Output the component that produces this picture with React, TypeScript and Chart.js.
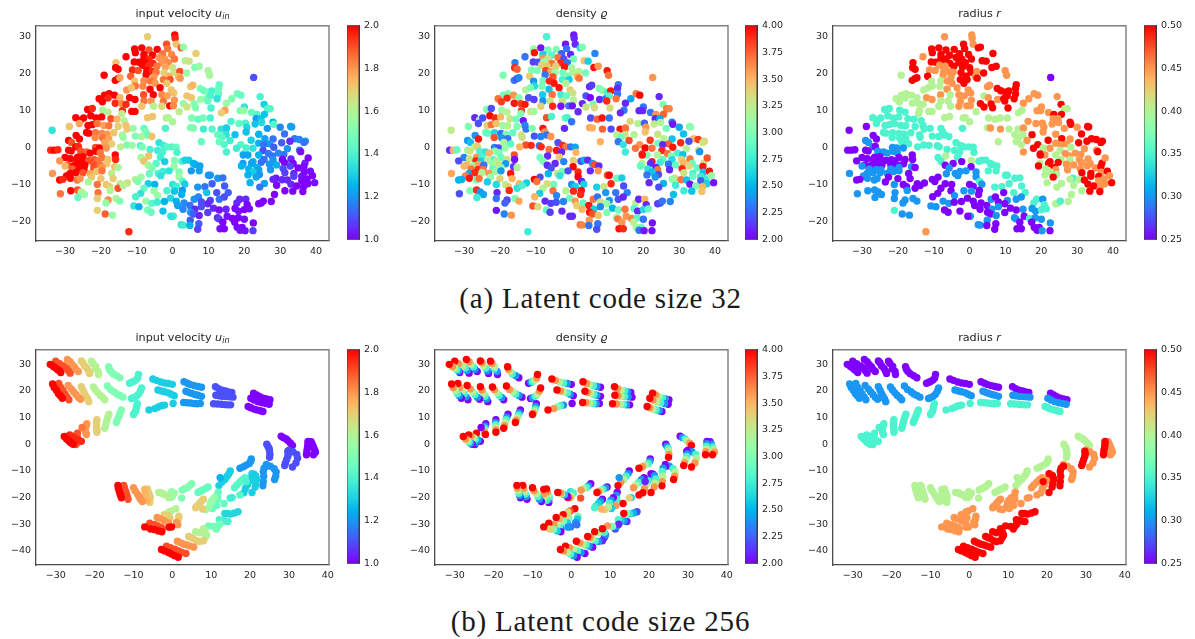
import React, { useEffect, useRef } from "react";
import { Chart, registerables } from "chart.js";

Chart.register(...registerables);

type Row = number[];

// ---------- Latent code size 32: x, y, input velocity, density, radius ----------
const crownPoints: Row[] = [
  [-7, 30, 1.7, 2.8, 0.45], [0.6, 30.5, 2, 2.05, 0.45], [0.7, 29.6, 1.95, 2.1, 0.45], [1, 28, 1.72, 2.1, 0.45],
  [-1.7, 28, 1.9, 2.05, 0.5], [-1.4, 26.8, 1.85, 2.3, 0.5], [2.4, 27, 1.9, 2.65, 0.5], [3, 27.2, 1.55, 3, 0.5],
  [-10.6, 26.7, 2, 3.1, 0.5], [-8.6, 27, 2, 2.05, 0.5], [-6.6, 26.4, 1.9, 2.95, 0.5], [-4.3, 26.6, 2, 3, 0.5],
  [-10.4, 25.7, 2, 3.95, 0.5], [-2.8, 25.4, 1.85, 2.25, 0.5], [-0.3, 25.2, 1.82, 2.1, 0.5], [6.5, 25.5, 1.7, 2.35, 0.5],
  [-13, 24.6, 2, 2.3, 0.45], [-8, 25.2, 2, 2.6, 0.5], [-5.6, 25, 2, 2.85, 0.5], [-8, 24.2, 2, 3.6, 0.5],
  [-6.6, 24, 1.95, 3.3, 0.5], [-3.8, 24.4, 1.8, 3.7, 0.5], [-2.2, 24, 1.8, 2.2, 0.5], [0.5, 24, 1.85, 2.95, 0.5],
  [3.5, 23.5, 1.6, 3.45, 0.5], [4.6, 23.4, 1.65, 2.6, 0.5], [-10.7, 23.2, 2, 2.15, 0.5], [-9.4, 23.1, 2, 2.2, 0.5],
  [-7.8, 23.2, 2, 3.1, 0.5], [-5.5, 22.8, 1.95, 3.7, 0.5], [-3, 23, 1.8, 3.9, 0.5], [-1.2, 23, 1.82, 2.3, 0.5],
  [-8.4, 22.3, 2, 3.4, 0.45], [-6.8, 22, 1.95, 3.45, 0.45], [-4.4, 22, 1.85, 3.4, 0.5], [-2, 21.8, 1.78, 3.95, 0.5],
  [0, 21.6, 1.65, 3.15, 0.5], [6.2, 21.7, 1.5, 3.95, 0.5], [7.4, 22, 1.55, 3.6, 0.5], [-15.8, 23, 1.72, 2.35, 0.5],
  [-15.9, 21.6, 2, 3.9, 0.5], [-15.2, 21.2, 2, 3.75, 0.5], [-11.2, 21, 1.95, 3, 0.45], [-9.6, 20.9, 1.9, 3, 0.45],
  [-7.2, 20.8, 2, 3.85, 0.45], [-5.8, 20.6, 1.95, 3.55, 0.45], [-4.6, 20.4, 1.85, 3.1, 0.45], [-2.4, 20.3, 1.7, 2.95, 0.5],
  [0.4, 20.4, 1.65, 3.2, 0.5], [2, 20.6, 1.9, 3.2, 0.45], [3.9, 20.2, 1.55, 2.95, 0.5], [9.9, 20.8, 1.58, 3.95, 0.45],
  [10.3, 19.6, 1.58, 3.7, 0.45], [-19.1, 19.6, 2, 3, 0.4], [-11.7, 19.3, 1.88, 3.4, 0.5], [-7.4, 19.7, 2, 2.3, 0.45],
  [-5.2, 19.1, 1.8, 3.8, 0.45], [-1, 19.3, 1.75, 3, 0.5], [1.6, 19.2, 1.72, 3.5, 0.45], [2.1, 18.8, 1.8, 3.7, 0.5],
  [-16, 18.2, 2, 2.3, 0.5], [-15.2, 18.7, 2, 2.2, 0.5], [-14.7, 18.9, 1.78, 2.35, 0.5], [-10.6, 18, 1.72, 2.4, 0.4],
  [-8, 18.1, 1.82, 2.95, 0.4], [-6.2, 18, 1.85, 3.9, 0.45], [-2.6, 18.4, 1.85, 2.8, 0.5], [-0.7, 18.4, 1.9, 2.6, 0.5],
];

const shoulderPoints: Row[] = [
  [-4.9, 17.4, 1.8, 3.95, 0.45], [-1.6, 17.4, 1.72, 3.2, 0.5], [5, 16.5, 1.7, 2.1, 0.45], [5.6, 16.9, 1.75, 2.15, 0.45],
  [-10.4, 16.7, 1.85, 2.65, 0.4], [-8.3, 16.6, 1.82, 3, 0.4], [-6.3, 15.8, 2, 2.55, 0.45], [-3.5, 16.2, 2, 3.95, 0.45],
  [13, 17, 1.45, 2.3, 0.5], [12.8, 16, 1.45, 2.1, 0.5], [-12.8, 15.6, 1.8, 3.2, 0.4], [-11.5, 16.2, 1.72, 3, 0.4],
  [-0.4, 15.6, 1.72, 3.4, 0.45], [0.3, 14.8, 1.72, 3.3, 0.45], [7.7, 16, 1.5, 3, 0.5], [8.7, 15.4, 1.45, 3.05, 0.5],
  [10, 15, 1.5, 2.8, 0.5], [10.9, 15.3, 1.4, 3.95, 0.5], [12.8, 14.5, 1.45, 2.3, 0.5], [16.5, 13.2, 1.5, 2.45, 0.45],
  [18, 14.6, 1.48, 3.7, 0.45], [19, 14.2, 1.45, 4, 0.45], [-19, 14.2, 2, 2.95, 0.4], [-17.7, 14.6, 2, 3, 0.4],
  [-16.2, 14.2, 2, 3.6, 0.4], [-14.7, 13.5, 1.75, 3, 0.4], [-8.1, 14.3, 1.9, 2.6, 0.45], [-5.4, 14.3, 2, 3.7, 0.4],
  [-3, 14.3, 1.82, 2.75, 0.45], [-1.5, 14, 1.78, 2.9, 0.45], [4, 14, 1.72, 2.2, 0.4], [5.2, 13.5, 1.72, 2, 0.45],
  [7.8, 13, 1.55, 2.1, 0.45], [9.5, 13.2, 1.5, 2.3, 0.5], [10.5, 14, 1.4, 2.85, 0.5], [12.4, 13.2, 1.35, 3.7, 0.5],
  [15, 12, 1.55, 2.1, 0.45], [24.4, 13.8, 1.4, 2.1, 0.45], [-20.5, 13.2, 2, 3.7, 0.4], [-18, 13.4, 1.95, 3.9, 0.4],
  [-12, 13.5, 2, 2.2, 0.45], [-10.5, 13, 2, 2.15, 0.45], [-8, 12.6, 1.85, 2.4, 0.4], [-6, 12.6, 1.8, 3.3, 0.4],
  [-2.6, 12.5, 1.85, 3.3, 0.45], [0.5, 12.8, 1.8, 3.2, 0.45], [-19.6, 12.4, 2, 3.85, 0.4], [-16, 12, 1.95, 3.95, 0.4],
  [-14.2, 11.9, 1.82, 3.85, 0.4], [-13, 11.7, 1.95, 3.95, 0.4], [3, 11.9, 1.55, 2.1, 0.5], [6, 11.8, 1.5, 2.95, 0.5],
  [9.8, 12.6, 1.45, 3.9, 0.5], [25.5, 11.7, 1.3, 3, 0.5], [-8.6, 11.2, 1.72, 3.4, 0.4], [-5.3, 11.2, 1.6, 3.9, 0.4],
  [-3, 11.2, 1.68, 2.05, 0.45], [-0.8, 11.3, 2, 2.3, 0.45], [0.2, 11.3, 1.82, 2.05, 0.45], [4, 11, 1.65, 3.3, 0.5],
  [6.4, 10.8, 1.5, 3.35, 0.5], [10.7, 10.7, 1.4, 3.35, 0.5], [20, 11, 1.35, 2.3, 0.45], [26.5, 10.5, 1.42, 3.7, 0.4],
  [27.2, 10.5, 1.42, 3.65, 0.4], [-14, 10, 1.95, 3.85, 0.4], [-11.4, 9.8, 2, 3.3, 0.4], [-10.5, 9.8, 2, 3.15, 0.4],
  [1.8, 9.7, 1.62, 2.1, 0.4], [14.6, 10.1, 1.78, 2.3, 0.4], [13.6, 9.4, 1.7, 2.1, 0.4], [18.8, 10, 1.5, 2.1, 0.45],
  [19.8, 10, 1.55, 2.1, 0.45], [22, 9.5, 1.45, 2.3, 0.45], [23.5, 9, 1.42, 3.6, 0.5], [25.6, 9, 1.28, 3.75, 0.5],
];

const leftLobePoints: Row[] = [
  [-23.7, 10.3, 2, 3, 0.35], [-22.4, 10.6, 1.95, 2.2, 0.35], [-19.5, 10.1, 1.58, 3.1, 0.35], [-18, 9.6, 1.62, 3.2, 0.35],
  [-14.2, 9.2, 1.62, 3, 0.4], [-7, 8.1, 1.72, 3.8, 0.4], [-5.6, 8.4, 1.72, 2.8, 0.4], [-1.8, 8, 1.6, 2.9, 0.4],
  [-1.2, 8.1, 1.6, 2.8, 0.4], [0, 7, 1.58, 2.3, 0.4], [5.3, 8, 1.5, 2.2, 0.4], [7.1, 7.7, 1.45, 3.75, 0.4],
  [8.5, 8, 1.48, 3.95, 0.4], [10.5, 8, 1.4, 2.3, 0.4], [-27, 8.1, 2, 2.1, 0.35], [-25.7, 7.4, 2, 3.05, 0.35],
  [-24.8, 8, 2, 2.2, 0.35], [-22.8, 8.6, 2, 4, 0.35], [-21.3, 8, 2, 3.9, 0.35], [-19.8, 8.3, 2, 3.5, 0.35],
  [-17.2, 7.8, 1.9, 3.3, 0.35], [-15.5, 7.7, 1.75, 2.95, 0.35], [-13.5, 7.3, 1.6, 2.05, 0.35], [-26, 6.5, 1.78, 2.2, 0.35],
  [-23.6, 6, 2, 3.4, 0.35], [-22.4, 6.2, 2, 3.7, 0.35], [-21, 6.5, 1.85, 3.45, 0.35], [-19.2, 6, 1.78, 3.1, 0.35],
  [-17.8, 5.9, 1.85, 3.2, 0.35], [-15.2, 5.7, 1.7, 3, 0.35], [-13, 6, 1.72, 2.35, 0.35], [-28.8, 5.7, 1.72, 3, 0.25],
  [-33.6, 4.7, 1.35, 3.25, 0.25], [-12.7, 5, 1.72, 2.3, 0.35], [-11, 5.2, 1.55, 3, 0.35], [-8, 5.2, 1.45, 3.95, 0.35],
  [-7.5, 4.2, 1.5, 3.6, 0.35], [-2, 5.2, 1.4, 2.1, 0.35], [5, 5.4, 1.5, 3.55, 0.4], [5.8, 5.3, 1.5, 3.5, 0.45],
  [8.6, 5, 1.38, 3.75, 0.45], [11, 5, 1.42, 2.2, 0.4], [13.5, 5, 1.35, 3.95, 0.4], [15, 5.2, 1.32, 3.85, 0.4],
  [-24, 4.1, 2, 2.95, 0.35], [-23.4, 3.9, 2, 2.9, 0.35], [-21.5, 4, 1.85, 2.65, 0.35], [-19.7, 3.8, 1.82, 2.3, 0.35],
  [-18.3, 3.6, 1.8, 3, 0.35], [-16.4, 4, 1.72, 2.9, 0.35], [-14, 3.4, 1.6, 3.3, 0.35], [-26.9, 3.3, 2, 2.4, 0.25],
  [-7, 3.4, 1.45, 2.3, 0.35], [-5.8, 3, 1.72, 3.6, 0.35], [-10.4, 3.1, 1.5, 2.2, 0.35], [-8.6, 3, 1.58, 2.35, 0.35],
  [-26, 2.3, 2, 3.95, 0.25], [-21.6, 2.7, 1.82, 3.8, 0.35], [-19.5, 2.6, 1.85, 2.4, 0.35], [-17.8, 2.4, 1.78, 2.3, 0.35],
  [-13.8, 2.8, 1.55, 3.3, 0.35], [-29, 1.9, 2, 2.4, 0.3], [-28.2, 1.4, 1.9, 2.55, 0.3], [-18.9, 1.4, 1.78, 3.2, 0.35],
  [-17, 1, 1.7, 2.85, 0.35], [-12.8, 0.7, 1.5, 3.8, 0.35], [-11.3, 0.6, 1.55, 3.9, 0.35], [-9, 0.5, 1.4, 2.3, 0.35],
  [-8.5, 0.2, 1.5, 3.9, 0.35], [-27, 0.2, 2, 3.2, 0.3], [-26.3, 0.3, 1.95, 3.4, 0.25], [-21.5, 0, 1.9, 2.35, 0.3],
  [-20.4, -0.1, 2, 2.2, 0.3], [-18.5, -0.1, 1.8, 3.1, 0.3], [-14.5, 0.2, 1.62, 3.5, 0.35], [-34, -0.7, 1.95, 2.1, 0.25],
  [-33, -0.7, 2, 3.5, 0.25], [-32, -0.6, 1.95, 2.9, 0.25], [-29, -0.7, 2, 3.1, 0.25], [-28.3, -0.9, 2, 3.3, 0.25],
  [-25.6, -1, 1.9, 2.8, 0.3], [-24, -1.2, 1.88, 2.7, 0.3], [-21.4, -1, 2, 3.1, 0.3], [-20.2, -1.4, 1.85, 3, 0.3],
  [-30, -2.7, 2, 2.35, 0.25], [-28.5, -3, 2, 3.3, 0.25], [-26.5, -2.6, 2, 3.6, 0.25], [-25, -2.5, 2, 2.8, 0.25],
  [-23, -1.5, 2, 3.5, 0.3], [-21.8, -3.3, 1.9, 2.8, 0.25], [-19.7, -2.7, 1.85, 2.9, 0.25], [-16, -2, 2, 3.8, 0.25],
  [-15.9, -3.2, 1.95, 2.05, 0.25], [-31.5, -3.6, 1.8, 2.2, 0.25], [-29.2, -4.7, 1.9, 3.5, 0.25], [-26.7, -3.6, 2, 3.9, 0.25],
  [-25.3, -3.7, 2, 2.6, 0.25], [-23.4, -3.5, 1.9, 3.2, 0.25], [-21, -3.6, 1.85, 3.2, 0.25], [-18, -3.2, 1.72, 3.3, 0.25],
  [-30, -5, 1.75, 3.5, 0.3], [-27.5, -4.9, 2, 3.1, 0.25], [-26, -4.6, 2, 3.55, 0.25], [-24.5, -4.8, 2, 2.3, 0.25],
  [-22, -4.6, 1.9, 3.1, 0.25], [-20.2, -4.7, 1.85, 3.3, 0.25], [-18.4, -4.4, 1.72, 2.4, 0.25], [-28, -5.8, 1.88, 3.7, 0.3],
  [-26, -5.9, 2, 3.9, 0.3], [-24.7, -6, 2, 3.7, 0.3], [-22, -5.8, 1.9, 2.9, 0.3], [-19.7, -5.4, 1.8, 3.1, 0.3],
  [-16.2, -5.2, 1.72, 2.15, 0.3], [-33.5, -7, 1.8, 3.55, 0.3], [-28.6, -7, 2, 2.45, 0.3], [-27, -6.8, 2, 3.9, 0.3],
  [-25, -6.8, 1.9, 3.2, 0.3], [-23, -7, 1.78, 3.6, 0.3], [-21.2, -6.5, 1.72, 3.1, 0.3], [-19.7, -6.3, 1.85, 2.4, 0.3],
  [-17, -7, 1.62, 3.95, 0.25], [-15.2, -5.4, 1.58, 3.2, 0.25], [-29.6, -7.7, 2, 3.65, 0.3], [-28.5, -8.3, 2, 3.95, 0.3],
  [-26.6, -8.8, 1.85, 3, 0.3], [-25.8, -8.4, 1.8, 3.7, 0.3], [-22.6, -8, 1.72, 3.1, 0.25], [-20, -8.4, 1.72, 3.4, 0.25],
  [-31.5, -8.8, 2, 2.5, 0.25], [-30.6, -8.6, 1.95, 2.5, 0.25], [-23.5, -9.3, 1.58, 2.6, 0.25], [-16.6, -8.4, 1.7, 3.5, 0.25],
  [-18.5, -10, 1.72, 3.2, 0.25], [-17.6, -10.6, 1.7, 3.4, 0.25], [-21, -10, 1.85, 2.65, 0.3], [-14.6, -9.8, 1.62, 3.5, 0.25],
  [-28.4, -11.7, 2, 3, 0.3], [-26.5, -11.5, 1.9, 3.9, 0.3], [-25.5, -12, 1.6, 2.4, 0.3], [-24.6, -12.7, 1.55, 2.45, 0.3],
  [-31.3, -12.5, 1.85, 2.2, 0.3], [-20.8, -12.2, 1.85, 2.1, 0.3], [-17.4, -11.6, 1.6, 3.9, 0.3], [-15.2, -11, 1.9, 2.7, 0.25],
  [-26.4, -13.5, 1.45, 2.75, 0.3], [-21, -13.8, 1.7, 2.3, 0.3], [-18, -14.2, 1.82, 2.2, 0.3], [-18.6, -15, 1.55, 2.25, 0.3],
  [-15.8, -13.8, 1.6, 3, 0.3], [-14.7, -14.5, 1.5, 3.55, 0.3], [-21, -17, 1.7, 2.05, 0.35], [-18.8, -18, 1.88, 2.35, 0.3],
  [-16.8, -18.3, 1.55, 3.6, 0.3], [-12.2, -22.8, 1.95, 2.75, 0.45],
];

const lowerBeltPoints: Row[] = [
  [-3.8, 1.3, 1.35, 2.2, 0.35], [-2.5, 0.6, 1.38, 3.9, 0.35], [-1.6, 0.2, 1.42, 3.7, 0.35], [-0.3, 0.2, 1.42, 2.3, 0.35],
  [1, 0.1, 1.45, 2.45, 0.35], [-6.3, -0.5, 1.4, 3.7, 0.35], [-4.2, -0.8, 1.38, 3.95, 0.35], [-2.8, -1.2, 1.4, 2.1, 0.35],
  [1.2, -1.3, 1.4, 3.5, 0.35], [-8.8, -2.7, 1.58, 2.95, 0.35], [-6.7, -2.3, 1.72, 2.1, 0.4], [-3.4, -2.6, 1.38, 3.4, 0.35],
  [0.5, -3.5, 1.5, 3.4, 0.4], [2.6, -3.7, 1.4, 2.2, 0.35], [3.5, -3.4, 1.3, 2.5, 0.35], [4.5, -3.4, 1.3, 2.1, 0.35],
  [5.8, -4.3, 1.25, 2.4, 0.35], [-8, -3.7, 1.72, 3, 0.35], [-4.6, -4.3, 1.42, 2.1, 0.25], [-2.2, -3.8, 1.3, 2.35, 0.25],
  [0.4, -5.2, 1.55, 4, 0.25], [6.3, -4.6, 1.25, 3.8, 0.35], [7.6, -5, 1.22, 2.1, 0.35], [-6.8, -4.8, 1.58, 2.1, 0.25],
  [-5.7, -5.5, 1.5, 2.2, 0.3], [-2.7, -6.5, 1.38, 2.95, 0.3], [-1, -6.3, 1.35, 2.2, 0.3], [1.8, -6.6, 1.5, 3.9, 0.3],
  [5.2, -6.3, 1.2, 2.1, 0.35], [7.4, -6.3, 1.22, 3.6, 0.35], [-8.8, -8, 1.55, 2.2, 0.25], [-6.5, -7.1, 1.45, 2.5, 0.3],
  [-4, -7, 1.4, 3.25, 0.3], [-3.3, -7.6, 1.35, 2.7, 0.3], [1.8, -7.9, 1.55, 4, 0.3], [10, -7.5, 1.2, 3.8, 0.35],
  [10.5, -7.5, 1.2, 4, 0.35], [-10.4, -8.6, 1.6, 4, 0.25], [-9.7, -9.2, 1.5, 3.7, 0.25], [-6.8, -9.8, 1.3, 3.35, 0.25],
  [2.8, -9.2, 1.42, 2.1, 0.35], [12.6, -8.3, 1.2, 2.95, 0.35], [14, -8.2, 1.15, 2.6, 0.35], [-12.6, -9.6, 1.65, 2.6, 0.25],
  [-5, -10, 1.25, 2.95, 0.25], [0, -10, 1.35, 2.4, 0.25], [1, -10.5, 1.38, 2.6, 0.25], [3.4, -9.9, 1.3, 2.6, 0.3],
  [7, -10.7, 1.2, 2.6, 0.35], [9, -10.6, 1.15, 3.3, 0.35], [11, -9.8, 1.12, 3.9, 0.35], [14.5, -10.4, 1.12, 2.2, 0.35],
  [-13.8, -10.3, 1.6, 2.8, 0.25], [-8, -11, 1.45, 3.2, 0.25], [-8.9, -12.4, 1.35, 2.6, 0.25], [-5.2, -11.7, 1.55, 3.7, 0.25],
  [-1.6, -11.7, 1.4, 3.2, 0.3], [0.5, -11.8, 1.28, 3.9, 0.3], [2.7, -11.6, 1.2, 3.95, 0.25], [12.3, -12.2, 1.1, 2.3, 0.35],
  [15.5, -12.2, 1.12, 2.35, 0.35], [-10.3, -13.3, 1.4, 3.5, 0.25], [-7.4, -14.5, 1.55, 2.1, 0.3], [-4.2, -13, 1.55, 2.35, 0.3],
  [-0.6, -13.7, 1.32, 2.95, 0.25], [1, -14.5, 1.25, 3.6, 0.25], [2.5, -12.7, 1.25, 3.9, 0.25], [6, -14, 1.2, 3.7, 0.3],
  [7.2, -13.4, 1.18, 2.3, 0.25], [9.5, -12.2, 1.28, 2.4, 0.25], [10.5, -14.3, 1.08, 2.4, 0.3], [13, -14, 1.15, 2.2, 0.3],
  [14.4, -13.4, 1.1, 2.1, 0.3], [-10.8, -15.8, 1.35, 3.8, 0.3], [-9.4, -16, 1.25, 3.35, 0.3], [-5.8, -15.1, 1.42, 2.15, 0.3],
  [-4.3, -14.8, 1.38, 2.2, 0.25], [-2.3, -14.6, 1.25, 2.35, 0.25], [1.4, -15.7, 1.22, 3.4, 0.25], [3.2, -15, 1.18, 2.9, 0.25],
  [4.8, -15.7, 1.15, 3.95, 0.25], [8, -14.7, 1.1, 3.3, 0.25], [9.8, -15.2, 1.05, 3.1, 0.25], [11.4, -16.4, 1.05, 2.5, 0.25],
  [17.9, -15, 1.05, 3.25, 0.35], [18.7, -14, 1.05, 2.1, 0.35], [-7, -16.9, 1.5, 2.9, 0.25], [-6, -17.5, 1.45, 2.15, 0.25],
  [-2.7, -17.2, 1.28, 2.1, 0.25], [2.9, -16.7, 1.18, 3.5, 0.25], [6.2, -16.7, 1.05, 2.6, 0.3], [8, -16, 1.1, 2.35, 0.3],
  [13, -16.9, 1.02, 2.95, 0.25], [14.9, -16.7, 1.05, 3.7, 0.3], [20.4, -14, 1.05, 3.5, 0.3], [20.8, -15.5, 1, 2.1, 0.35],
  [5, -17.5, 1.2, 3.95, 0.25], [5.8, -18, 1.12, 3.8, 0.25], [7.4, -18.4, 1.05, 3.45, 0.3], [9.8, -17.6, 1.08, 3, 0.25],
  [12.5, -19, 1.05, 3.1, 0.3], [15.2, -18.6, 1.02, 3.6, 0.25], [17.4, -16.5, 1, 2.85, 0.3], [18.4, -17.2, 1.02, 2.1, 0.3],
  [20, -16.8, 1, 2.65, 0.35], [21.4, -16.6, 1.02, 2.9, 0.35], [0.2, -18.6, 1.38, 2.1, 0.3], [-0.5, -18.6, 1.35, 2.1, 0.25],
  [4.9, -19.7, 1.12, 3.6, 0.3], [12.9, -19.3, 1.08, 3.7, 0.3], [16.7, -19.2, 1, 3.65, 0.35], [18.3, -19, 1, 2.85, 0.3],
  [20, -19.4, 1.02, 2.3, 0.3], [7.3, -20.6, 1.12, 2.3, 0.25], [14, -20.2, 1, 3.6, 0.25], [17.3, -20.2, 1, 3.2, 0.25],
  [22.5, -20.4, 1, 2.05, 0.3], [2.4, -20.9, 1.35, 3.7, 0.3], [3, -21, 1.38, 3.65, 0.3], [4.8, -21.1, 1.25, 2.3, 0.25],
  [13.2, -22, 1.02, 3.95, 0.25], [14.4, -22, 1, 3.9, 0.25], [18, -21.6, 1, 3.15, 0.25], [19.4, -21.6, 1, 2.95, 0.25],
  [7, -22.1, 1.08, 2.2, 0.25], [18.8, -22.4, 1.02, 2.3, 0.25], [20.2, -22.5, 1.02, 2.05, 0.3], [22.4, -22.5, 1.08, 2.05, 0.25],
];

const rightWingPoints: Row[] = [
  [22.6, 19, 1.1, 3.6, 0.25], [16.3, 7.1, 1.4, 3.35, 0.45], [18.5, 6.5, 1.45, 3.2, 0.45], [20.3, 6.6, 1.4, 2.25, 0.45],
  [23.3, 7.8, 1.2, 2.1, 0.45], [24.6, 7.8, 1.28, 2.45, 0.45], [28, 6.9, 1.25, 2.3, 0.5], [28.2, 6.3, 1.42, 2.05, 0.5],
  [32.9, 5.7, 1.2, 3, 0.5], [33.2, 5.6, 1.22, 3.05, 0.5], [15, 5.3, 1.3, 3.7, 0.45], [20.7, 5.5, 1.32, 3.6, 0.45],
  [26.4, 5.2, 1.2, 2.95, 0.45], [23, 6.4, 1.28, 3.25, 0.45], [24.8, 6.8, 1.32, 3.2, 0.45], [30, 5.5, 1.18, 2.45, 0.45],
  [12.6, 3.5, 1.45, 3.2, 0.4], [14.9, 3.5, 1.35, 3.3, 0.4], [17.4, 3.5, 1.28, 3.2, 0.5], [20.5, 4.2, 1.28, 3.45, 0.45],
  [24, 3.6, 1.25, 3.3, 0.45], [31.2, 3.7, 1.15, 2.55, 0.5], [13.8, 2.8, 1.42, 2.95, 0.4], [16, 1.9, 1.38, 3.8, 0.45],
  [21.9, 2, 1.3, 3.85, 0.5], [25.7, 2.4, 1.22, 3.2, 0.5], [28, 2.3, 1.15, 2.55, 0.45], [34, 2.4, 1.15, 3.5, 0.5],
  [35.3, 2.2, 1.18, 3.85, 0.5], [37, 1.7, 1.2, 3.4, 0.5], [8, 1.6, 1.45, 3.5, 0.4], [13, 1.6, 1.45, 2.3, 0.4],
  [24, 1.2, 1.25, 3, 0.45], [27, 1, 1.2, 3.75, 0.45], [30.4, 1.3, 1.12, 3.9, 0.5], [32.7, 1.7, 1.05, 2.2, 0.5],
  [36.6, 1.4, 1.15, 3.3, 0.5], [14.4, 0.8, 1.42, 2.7, 0.4], [19, 0.8, 1.42, 3.6, 0.5], [25.4, 0.8, 1.15, 2.1, 0.45],
  [28.2, 0.1, 1.12, 3.95, 0.4], [32, -0.3, 1.2, 3.2, 0.45], [20.5, -0.1, 1.4, 4, 0.4], [22.4, -0.2, 1.35, 3.7, 0.45],
  [15, -1.2, 1.4, 2.75, 0.45], [17.8, -0.2, 1.38, 3.7, 0.5], [19.7, -1.7, 1.45, 3.9, 0.5], [25.2, -0.8, 1.1, 3.9, 0.4],
  [26.7, -1.6, 1.15, 3.7, 0.45], [29.5, -1.5, 1.18, 2.8, 0.45], [35.4, -0.7, 1.15, 3.3, 0.45], [21, -2, 1.22, 3, 0.45],
  [24, -2, 1.25, 3.2, 0.4], [27.8, -2.3, 1.15, 3, 0.45], [31, -1.9, 1.15, 2.55, 0.45], [35.7, -1.1, 1.02, 2.4, 0.5],
  [19.7, -2, 1.22, 3.95, 0.5], [25.5, -3.2, 1.15, 2.95, 0.4], [28, -3.3, 1.2, 2.65, 0.4], [30.6, -3.2, 1, 3.4, 0.45],
  [33, -3.1, 1.05, 3.7, 0.45], [36.9, -4.2, 1.05, 3.3, 0.5], [19.6, -4.3, 1.2, 3.2, 0.4], [22.4, -3.8, 1.25, 3.95, 0.5],
  [24.7, -4, 1.15, 2.75, 0.5], [27, -4.5, 1.2, 2.3, 0.45], [31.2, -4.1, 1, 3.5, 0.45], [33.6, -4.3, 1, 2.9, 0.45],
  [37.8, -2.8, 1, 3.8, 0.45], [22, -4.3, 1.22, 2.1, 0.5], [29, -4.7, 1.25, 2.9, 0.45], [32.8, -5, 1.08, 3.35, 0.45],
  [35, -5.5, 1, 2.9, 0.45], [36.6, -5.1, 1, 3.95, 0.5], [19.2, -5, 1.25, 2.9, 0.5], [23.5, -5.4, 1.25, 2.1, 0.5],
  [21.2, -5.8, 1.25, 2.7, 0.4], [24, -6, 1.22, 3.7, 0.45], [27.3, -6, 1.2, 2.1, 0.45], [30.8, -5.7, 1.1, 3.9, 0.45],
  [31.3, -6.8, 1.08, 3.3, 0.5], [33.8, -7, 1.05, 2.8, 0.5], [36.7, -6.7, 1, 2.55, 0.45], [38.4, -6.4, 1.02, 3.95, 0.5],
  [24.2, -7.3, 1.2, 2.2, 0.4], [22.4, -6.6, 1.3, 2.55, 0.4], [21, -7.4, 1.25, 2.3, 0.4], [28.8, -8.3, 1.02, 3.3, 0.35],
  [33.8, -7.8, 1.08, 2.9, 0.5], [36, -7.8, 1.02, 2.75, 0.5], [37.5, -8.5, 1, 2.75, 0.45], [39, -7.6, 1, 3.1, 0.45],
  [23.3, -8, 1.22, 2.4, 0.5], [28, -8.6, 1.05, 3.1, 0.4], [30.5, -8.7, 1.05, 3.7, 0.4], [32, -8.8, 1.05, 2.55, 0.5],
  [36, -9, 1, 2.25, 0.45], [37.7, -9.8, 1, 2.6, 0.45], [39.6, -9.5, 1.02, 2.05, 0.5], [21.6, -9.5, 1.25, 2.1, 0.4],
  [25.6, -9.7, 1.22, 2.5, 0.4], [29, -10.2, 1, 2.75, 0.4], [33, -9.9, 1.05, 2.05, 0.5], [34.6, -10.4, 1, 3, 0.5],
  [36.5, -10.6, 1, 3.5, 0.45], [24.3, -10.7, 1.15, 2.2, 0.4], [31.3, -11.7, 1, 2.75, 0.4], [33.5, -11.8, 1, 2.55, 0.5],
  [36.3, -11.9, 1, 3.45, 0.5], [28.4, -12.7, 1, 2.55, 0.4], [24, -15.2, 1, 2.15, 0.4], [24.7, -15, 1, 2.2, 0.4],
  [25.3, -14.5, 1, 2.3, 0.35], [27.5, -14.6, 1, 2.35, 0.4],
];

// ---------- Latent code size 256: each strip is [input velocity, [x, y, density]...] ----------
type Strip = [number, ...number[][]];

const bandRadius25: Strip[] = [
  [1, [25.1, 16.7, 2], [24.2, 17, 2.4], [23.4, 17.3, 2.8], [22.5, 17.9, 3.2], [21.7, 18.5, 3.6], [20.9, 19.2, 4]],
  [1.1, [15.3, 19.5, 2], [14.5, 19.6, 2.4], [13.7, 20, 2.8], [12.8, 20.3, 3.2], [11.9, 20.9, 3.6], [11.1, 21.6, 4]],
  [1.2, [7.5, 21.4, 2], [6.6, 21.7, 2.4], [5.7, 22, 2.8], [4.7, 22.4, 3.2], [3.9, 22.9, 3.6], [3, 23.5, 4]],
  [1.3, [0, 22.5, 2], [-1, 22.8, 2.4], [-2, 23, 2.8], [-3, 23.4, 3.2], [-4.1, 24, 3.6], [-5, 24.5, 4]],
  [1.4, [-11, 22.9, 2], [-10.4, 23.3, 2.4], [-10, 23.6, 2.8], [-9.4, 24.1, 3.2], [-8.9, 24.9, 3.6], [-8.7, 26.2, 4]],
  [1.5, [-13.5, 25, 2], [-14.3, 25.7, 2.4], [-15.2, 26.5, 2.8], [-15.8, 27.3, 3.2], [-16.2, 28.2, 3.6], [-16.4, 29.1, 4]],
  [1.6, [-19, 26.2, 2], [-19.1, 27.3, 2.4], [-19.8, 28.3, 2.8], [-19.7, 29.2, 3.2], [-20.4, 30.3, 3.6], [-20.8, 31.2, 4]],
  [1.7, [-21.3, 26.6, 2], [-21.6, 27.6, 2.4], [-22, 28.6, 2.8], [-22.6, 29.5, 3.2], [-23, 30.6, 3.6], [-23.4, 31.3, 4]],
  [1.8, [-24.2, 27.3, 2], [-24.8, 28.2, 2.4], [-25.2, 29.1, 2.8], [-25.8, 30, 3.2], [-26.3, 31, 3.6], [-27, 31.8, 4]],
  [1.9, [-26.3, 26.7, 2], [-26.8, 27.7, 2.4], [-27.3, 28.6, 2.8], [-28, 29.4, 3.2], [-29, 30.2, 3.6], [-30, 31.2, 4]],
  [2, [-28.7, 26.9, 2], [-29, 27.5, 2.4], [-29.5, 28, 2.8], [-30, 28.6, 3.2], [-30.6, 29.2, 3.6], [-31.4, 30, 4]],
];

const bandRadius30: Strip[] = [
  [1, [24.9, 15, 2], [24, 15.3, 2.4], [23, 15.6, 2.8], [22, 16, 3.2], [21, 16.6, 3.6], [20.2, 17.3, 4]],
  [1.1, [15.6, 17.7, 2], [14.6, 17.8, 2.4], [13.7, 17.9, 2.8], [12.8, 18, 3.2], [12, 18.2, 3.6], [11.2, 18.4, 4]],
  [1.2, [7.5, 18, 2], [6.6, 18.4, 2.4], [5.8, 18.7, 2.8], [5, 19.1, 3.2], [4.2, 19.5, 3.6], [3.5, 19.9, 4]],
  [1.3, [0.5, 18.2, 2], [-0.3, 18.8, 2.4], [-1, 19.3, 2.8], [-2, 19.7, 3.2], [-2.8, 20, 3.6], [-3.7, 20.4, 4]],
  [1.4, [-10.5, 17.2, 2], [-10, 17.5, 2.4], [-9.3, 18, 2.8], [-8.7, 18.8, 3.2], [-8.2, 20, 3.6], [-7.9, 21.1, 4]],
  [1.5, [-12.7, 17.7, 2], [-13.5, 18.3, 2.4], [-14.3, 18.9, 2.8], [-15, 19.7, 3.2], [-15.9, 20.6, 3.6], [-16.7, 21.9, 4]],
  [1.6, [-17.4, 16.7, 2], [-17.9, 17.6, 2.4], [-18.6, 18.4, 2.8], [-19.2, 19.4, 3.2], [-19.8, 20.5, 3.6], [-20.3, 21.5, 4]],
  [1.7, [-21.5, 16, 2], [-21.8, 17, 2.4], [-22.2, 18, 2.8], [-22.6, 19.1, 3.2], [-23, 20.4, 3.6], [-23.4, 21.6, 4]],
  [1.8, [-23.6, 16.9, 2], [-24.2, 17.7, 2.4], [-24.8, 18.7, 2.8], [-25.4, 19.7, 3.2], [-26, 20.8, 3.6], [-26.8, 22.1, 4]],
  [1.9, [-26.6, 16.7, 2], [-27.1, 17.8, 2.4], [-27.6, 18.9, 2.8], [-28.1, 20, 3.2], [-28.7, 21.3, 3.6], [-29.2, 22.8, 4]],
  [2, [-28.3, 17.3, 2], [-28.8, 18.2, 2.4], [-29.3, 19, 2.8], [-29.8, 20.2, 3.2], [-30.4, 21.3, 3.6], [-30.8, 22.6, 4]],
];

const bandRadius35: Strip[] = [
  [1, [23.3, 12.3, 2], [22.6, 12.6, 2.4], [21.8, 12.9, 2.8], [21, 13.2, 3.2], [20.2, 13.7, 3.6], [19.5, 14.2, 4]],
  [1.1, [15, 14.8, 2], [14.2, 14.8, 2.4], [13.4, 14.9, 2.8], [12.6, 15, 3.2], [11.6, 15.1, 3.6], [10.6, 15.2, 4]],
  [1.2, [7.2, 15.3, 2], [6.4, 15.2, 2.4], [5.6, 15.3, 2.8], [4.7, 15.5, 3.2], [3.8, 15.6, 3.6], [2.9, 15.7, 4]],
  [1.3, [0.2, 15.3, 2], [-2, 14.7, 2.4], [-2.8, 14.5, 2.8], [-3.6, 14, 3], [-4.5, 13.4, 3.6], [-6, 12.9, 4]],
  [1.4, [-9, 15.2, 2], [-9.2, 14.2, 2.4], [-9.3, 13.2, 2.8], [-9.5, 12.3, 3.2], [-9.8, 11.7, 3.6], [-10, 11.2, 4]],
  [1.5, [-13.1, 12.9, 2], [-13.4, 11.9, 2.4], [-13.6, 11, 2.8], [-13.9, 10, 3.2], [-14.2, 9, 3.6], [-14.4, 8.2, 4]],
  [1.6, [-16.3, 11.3, 2], [-16.6, 10.2, 2.4], [-16.8, 9.2, 2.8], [-17, 8.2, 3.2], [-17.2, 7, 3.6], [-17.4, 6, 4]],
  [1.7, [-19.4, 9.2, 2], [-19.5, 8.2, 2.4], [-19.5, 7.4, 2.8], [-19.5, 6.4, 3.2], [-19.4, 5.4, 3.6], [-19.4, 4.5, 4]],
  [1.8, [-22, 7.7, 2], [-22.2, 6.8, 2.4], [-22.4, 6, 2.8], [-22.4, 5.2, 3.2], [-22.3, 4.4, 3.6], [-22.1, 3.7, 4]],
  [1.85, [-23.2, 6.3, 2]],
  [1.9, [-24.8, -0.1, 2], [-24.6, 0.6, 2.4], [-24.6, 1.4, 2.8], [-24.7, 2.2, 3.2], [-24.5, 3.2, 3.6], [-24.4, 4.2, 4]],
  [1.95, [-23.4, 1.1, 2], [-24, 1.5, 2.4], [-24.7, 1.9, 2.8], [-25.2, 2.5, 3.2], [-25.8, 3, 3.6], [-26.4, 3.5, 4]],
  [2, [-25.5, 0, 2], [-25.9, 0.4, 2.4], [-26.3, 0.8, 2.8], [-26.7, 1.4, 3.2], [-27.2, 2, 3.6], [-27.8, 2.9, 4]],
];

const bandRadius40: Strip[] = [
  [1, [28, 3, 2], [28.6, 2.5, 2.4], [29.3, 2, 2.8], [29.8, 1.3, 3.2], [30.4, 0.4, 3.6], [30.9, -0.4, 4]],
  [1.1, [24.3, 0, 2], [24.6, -0.8, 2.4], [24.9, -1.6, 2.8], [25, -2.4, 3.2], [25.1, -3.8, 3.6], [25, -4.9, 4]],
  [1.2, [20.3, -5.5, 2], [20.2, -6.3, 2.4], [19.8, -7.2, 2.8], [19, -7.8, 3.2], [18.3, -8.4, 3.6], [17.4, -9, 4]],
  [1.3, [14.9, -10, 2], [14.6, -11, 2.4], [14.1, -12, 2.8], [13.5, -13.2, 3.2], [12.7, -14.2, 3.6], [12, -15.5, 4]],
  [1.25, [12.3, -12.5, 2.4]],
  [1.45, [9.2, -16, 2], [8.8, -16.4, 2.4], [8.1, -16.9, 2.8], [7.5, -17.3, 3.2], [7, -17.8, 3.6], [6.6, -18.1, 4]],
  [1.5, [5, -14.8, 2], [4.4, -15.6, 2.4], [3.9, -16.2, 2.8], [3.1, -16.7, 3.2], [2.5, -17.2, 3.6], [2.4, -20.2, 3.8]],
  [1.55, [-0.2, -17.8, 2.7], [0.5, -18.3, 2.8], [0, -19.6, 3.2], [-0.4, -20, 3.6], [-0.9, -20, 4]],
  [1.6, [-1, -19.6, 2], [-1.8, -18.9, 2.6], [-2.5, -18.6, 3.2], [-2.8, -18.2, 3.6], [-3.5, -18.1, 4]],
  [1.7, [-5.8, -21.8, 2], [-5.8, -20.8, 2.4], [-5.7, -19.8, 2.8], [-5.9, -18.9, 3.2], [-6.2, -17.8, 3.6], [-6.4, -16.8, 4]],
  [1.75, [-6.4, -21, 2.8], [-7, -20, 3.2], [-7, -18.6, 3.6], [-7.1, -16.9, 4]],
  [1.8, [-7.7, -21.5, 2], [-8.2, -20.6, 2.4], [-8.6, -19.6, 2.8], [-9, -18.6, 3.2], [-9.6, -17.4, 3.6], [-10, -16.3, 4]],
  [1.9, [-11.4, -20.6, 2], [-11.6, -19.6, 2.4], [-11.8, -18.7, 2.8], [-12, -17.7, 3.2], [-12.3, -16.5, 3.6], [-12.5, -15.4, 4]],
  [2, [-13.1, -20.1, 2], [-13.3, -19.2, 2.4], [-13.5, -18.4, 2.8], [-13.7, -17.4, 3.2], [-13.9, -16.4, 3.6], [-14, -15.4, 4]],
];

const bandRadius45: Strip[] = [
  [1, [35.7, 1, 2], [36, 0, 2.4], [36.3, -1, 2.8], [36.6, -2, 3.2], [36.8, -3, 3.6], [36.3, -3.9, 4]],
  [1.1, [30, -2.2, 2], [31, -2.8, 2.4], [32, -3.8, 2.8], [32.2, -5.2, 3.2], [31.8, -7, 3.6], [30.9, -8.5, 4]],
  [1.2, [24.2, -7.6, 2], [25.2, -8.2, 2.4], [26.2, -9.2, 2.8], [26.7, -10.4, 3.2], [26.6, -12, 3.6], [26.3, -13.2, 4]],
  [1.3, [21, -11.2, 2], [20.4, -12.4, 2.4], [19.8, -13.8, 2.8], [19.3, -15.2, 3.2], [18.8, -16.6, 3.6], [18.4, -18.2, 4]],
  [1.42, [18.7, -12.5, 2], [18, -13.3, 2.4], [17.3, -14.3, 2.8], [16.6, -15.3, 3.2], [16, -16.3, 3.6], [17.4, -19, 4]],
  [1.38, [15.4, -20, 2.6], [14.9, -20.2, 3.4]],
  [1.45, [11.8, -18, 2], [11.6, -19.2, 2.4], [11.7, -20.6, 2.8], [11.4, -23, 3.6], [13.3, -22.2, 4], [10.3, -24.1, 2.6]],
  [1.55, [10.8, -20, 2], [10.2, -21, 2.4], [9.8, -22, 2.8], [9.5, -23.6, 3.2], [8.6, -24.5, 3.4]],
  [1.7, [8, -20.6, 2], [7.5, -21.4, 2.4], [7, -22.2, 2.6], [6.3, -23.2, 2.7], [6, -23.8, 2.8], [7.8, -24.3, 3.5]],
  [1.6, [0.9, -24.2, 4], [-0.3, -25, 3.8], [-0.9, -25.4, 3.4]],
  [1.7, [1.7, -27, 3], [1.6, -28, 2.6], [-0.6, -27.6, 3], [-1.2, -26.8, 3.4], [-2.1, -26.4, 4]],
  [1.8, [1.1, -29.3, 2.4], [1.4, -30.2, 2.3], [-1, -29.5, 2.6], [-2, -28.8, 3], [-3, -28, 3.5], [-3.9, -27.5, 4]],
  [1.9, [-2.6, -31.6, 2.4], [-3, -31.2, 2.8], [-3.7, -30.7, 3.2], [-4.5, -30.2, 3.6], [-5.8, -29.6, 4]],
  [2, [-0.2, -31, 2.3], [-0.8, -31.1, 2.4], [-2.7, -32.8, 2], [-3.6, -32.5, 2.6], [-4.6, -32, 3], [-5.6, -31.8, 3.4], [-7.1, -31, 4]],
];

const bandRadius50: Strip[] = [
  [1, [34.9, 1.1, 2], [34.9, 0.2, 2.4], [34.8, -0.8, 2.8], [34.7, -1.8, 3.2], [34.6, -2.8, 3.6], [34.5, -3.9, 4]],
  [1.1, [29.7, -2.6, 2], [29.8, -3.6, 2.4], [29.7, -4.6, 2.8], [29.4, -5.8, 3.2], [29.1, -7, 3.6], [28.9, -8, 4]],
  [1.2, [24.2, -8.2, 2], [23.6, -9, 2.4], [23.4, -10.2, 2.8], [23.5, -12, 3.2], [23.4, -14, 3.6], [23.3, -15.6, 4]],
  [1.3, [20.5, -11, 2], [21.4, -11.8, 2.4], [21.7, -13, 2.8], [21.5, -14.6, 3.2], [21.3, -16, 3.6], [20.5, -18.1, 4]],
  [1.4, [19, -14, 2.1]],
  [1.32, [16.9, -25.3, 2.2], [16, -25.8, 2.5], [15, -26.2, 2.7], [14.2, -26, 3], [13.5, -26, 4]],
  [1.4, [14.3, -29, 2.1], [13.6, -28.8, 2.4], [12.8, -28.6, 2.6], [12.1, -28.3, 2.8]],
  [1.48, [11.3, -31.8, 2.2], [11.7, -30.8, 2.4], [12.2, -30, 2.1], [10.6, -30.8, 3], [9.3, -30.6, 3.6]],
  [1.6, [8.5, -35, 2.1], [8.8, -34, 2.4], [8.5, -33, 2.8], [7, -33.2, 3.2], [8, -31.7, 4], [6, -32.8, 4]],
  [1.7, [8, -36.2, 2.1], [7, -36.5, 2.4], [6.2, -36.2, 2.8], [5.4, -35.4, 3.2], [4.8, -35, 3.6], [4.2, -34.6, 4]],
  [1.8, [5.5, -38.6, 2], [4.6, -38.2, 2.4], [3.8, -37.8, 2.8], [3, -37.5, 3.2], [2.2, -37, 3.6], [1.3, -36.4, 4]],
  [1.9, [3.5, -41, 2], [2.5, -40.6, 2.4], [1.6, -40, 2.8], [0.6, -39.4, 3.2], [-0.5, -38.8, 3.6], [-1.5, -38.2, 4]],
  [2, [1.5, -42.4, 2], [0.6, -41.8, 2.4], [-0.2, -41.2, 2.8], [-1, -40.6, 3.2], [-2, -40, 3.6], [-2.8, -39.5, 4]],
];

// ---------- Axes, colour bars, titles ----------
const topXTicks = [-30, -20, -10, 0, 10, 20, 30, 40];
const topYTicks = [-20, -10, 0, 10, 20, 30];
const bottomYTicks = [-40, -30, -20, -10, 0, 10, 20, 30];
const velocityTicks = ["1.0", "1.2", "1.4", "1.6", "1.8", "2.0"];
const densityTicks = ["2.00", "2.25", "2.50", "2.75", "3.00", "3.25", "3.50", "3.75", "4.00"];
const radiusTicks = ["0.25", "0.30", "0.35", "0.40", "0.45", "0.50"];
const topXRange = [-38.1, 43.6];
const topYRange = [-25.3, 33];
const bottomXRange = [-35.07, 40.3];
const bottomYRange = [-45.3, 35.5];

const topRows: Row[] = [...crownPoints, ...shoulderPoints, ...leftLobePoints, ...lowerBeltPoints, ...rightWingPoints];
const allBands: [number, Strip[]][] = [
  [0.25, bandRadius25], [0.3, bandRadius30], [0.35, bandRadius35],
  [0.4, bandRadius40], [0.45, bandRadius45], [0.5, bandRadius50],
];
const bottomRows: Row[] = allBands.flatMap(([radius, strips]) =>
  strips.flatMap(([u, ...pts]) => pts.map((p) => [p[0], p[1], u as number, p[2], radius]))
);

function rainbow(t: number): string {
  const c = Math.max(0, Math.min(1, t));
  const r = Math.min(1, Math.abs(2 * c - 0.5));
  const g = Math.sin(Math.PI * c);
  const b = Math.cos((Math.PI * c) / 2);
  return `rgb(${Math.round(r * 255)},${Math.round(g * 255)},${Math.round(b * 255)})`;
}

const TICK_COLOR = "#262626";
const SPINE_DARK = "#4a4a4a";
const SPINE_LIGHT = "#7e7e7e";
const tickFont = { family: "'DejaVu Sans'", size: 9.5 };
const minus = (v: number | string) => String(v).replace("-", "\u2212");

type PanelSpec = {
  rows: Row[]; col: number; left: number; top: number; xr: number[]; yr: number[];
  xt: number[]; yt: number[]; low: number; high: number; labels: string[]; barLeft: number;
};

const PLOT_W = 293;
const PLOT_H = 217;
const BAR_W = 12;

function Scatter({ p }: { p: PanelSpec }) {
  const ref = useRef<HTMLCanvasElement>(null);
  useEffect(() => {
    const chart = new Chart(ref.current!, {
      type: "scatter",
      data: {
        datasets: [{
          data: p.rows.map((r) => ({ x: r[0], y: r[1] })),
          pointRadius: 3.7,
          pointBorderWidth: 0,
          pointBackgroundColor: p.rows.map((r) => rainbow((r[p.col] - p.low) / (p.high - p.low))),
        }],
      },
      options: {
        animation: false, responsive: false,
        layout: { padding: { top: 6, right: 16, left: 0, bottom: 0 } },
        plugins: { legend: { display: false }, tooltip: { enabled: false } },
        scales: {
          x: {
            type: "linear", min: p.xr[0], max: p.xr[1],
            afterBuildTicks: (s: any) => { s.ticks = p.xt.map((v) => ({ value: v })); },
            afterFit: (s: any) => { s.height = 24; },
            grid: { display: false, drawTicks: true, tickLength: 3, tickColor: TICK_COLOR },
            border: { display: true, color: SPINE_DARK, width: 1.3 },
            ticks: { color: TICK_COLOR, font: tickFont, padding: 2, maxRotation: 0, autoSkip: false, callback: (v: any) => minus(v) },
          },
          y: {
            type: "linear", min: p.yr[0], max: p.yr[1],
            afterBuildTicks: (s: any) => { s.ticks = p.yt.map((v) => ({ value: v })); },
            afterFit: (s: any) => { s.width = 34; },
            grid: { display: false, drawTicks: true, tickLength: 3, tickColor: TICK_COLOR },
            border: { display: true, color: SPINE_DARK, width: 1.3 },
            ticks: { color: TICK_COLOR, font: tickFont, padding: 2, autoSkip: false, callback: (v: any) => minus(v) },
          },
        },
      },
      plugins: [{
        id: "frame",
        afterDatasetsDraw(c: any) {
          const { ctx, chartArea: a } = c;
          ctx.save();
          ctx.strokeStyle = SPINE_LIGHT;
          ctx.lineWidth = 1.4;
          ctx.beginPath();
          ctx.moveTo(a.left, a.top);
          ctx.lineTo(a.right, a.top);
          ctx.lineTo(a.right, a.bottom);
          ctx.stroke();
          ctx.restore();
        },
      }],
    } as any);
    return () => chart.destroy();
  }, [p]);
  return (
    <canvas ref={ref} width={34 + PLOT_W + 16} height={6 + PLOT_H + 24}
      style={{ position: "absolute", left: p.left - 34, top: p.top - 6 }} />
  );
}

function ColorBar({ p }: { p: PanelSpec }) {
  const ref = useRef<HTMLCanvasElement>(null);
  useEffect(() => {
    const values = p.labels.map(Number);
    const chart = new Chart(ref.current!, {
      type: "bar",
      data: {
        labels: ["scale"],
        datasets: [{
          data: [[p.low, p.high]],
          barPercentage: 1, categoryPercentage: 1,
          borderWidth: 0,
          backgroundColor: (ctx: any) => {
            const a = ctx.chart.chartArea;
            if (!a) return "#fff";
            const g = ctx.chart.ctx.createLinearGradient(0, a.bottom, 0, a.top);
            for (let i = 0; i <= 32; i++) g.addColorStop(i / 32, rainbow(i / 32));
            return g;
          },
        }],
      },
      options: {
        animation: false, responsive: false,
        layout: { padding: { top: 6, right: 0, left: 0, bottom: 6 } },
        plugins: { legend: { display: false }, tooltip: { enabled: false } },
        scales: {
          x: { display: false },
          y: {
            position: "right", min: p.low, max: p.high,
            afterBuildTicks: (s: any) => { s.ticks = values.map((v) => ({ value: v })); },
            afterFit: (s: any) => { s.width = 34; },
            grid: { display: false, drawTicks: true, tickLength: 3, tickColor: TICK_COLOR },
            border: { display: true, color: "#3c3c3c", width: 1 },
            ticks: {
              color: TICK_COLOR, font: tickFont, padding: 2, autoSkip: false,
              callback: (v: any) => p.labels[values.indexOf(v)] ?? "",
            },
          },
        },
      },
      plugins: [{
        id: "barFrame",
        afterDatasetsDraw(c: any) {
          const { ctx, chartArea: a } = c;
          ctx.save();
          ctx.strokeStyle = "#3c3c3c";
          ctx.lineWidth = 1;
          ctx.strokeRect(a.left, a.top, a.right - a.left, a.bottom - a.top);
          ctx.restore();
        },
      }],
    } as any);
    return () => chart.destroy();
  }, [p]);
  return (
    <canvas ref={ref} width={BAR_W + 34} height={PLOT_H + 12}
      style={{ position: "absolute", left: p.barLeft, top: p.top - 6 }} />
  );
}

const titleStyle = (left: number, top: number): React.CSSProperties => ({
  position: "absolute", left, top, width: PLOT_W, textAlign: "center", whiteSpace: "nowrap",
  font: "11.2px 'DejaVu Sans'", color: TICK_COLOR, lineHeight: "14px",
});
const sub: React.CSSProperties = { fontSize: 8, verticalAlign: "-2px", lineHeight: 0 };

const captionStyle = (top: number): React.CSSProperties => ({
  position: "absolute", top, left: 3, width: 1195, textAlign: "center", whiteSpace: "nowrap",
  font: "29px 'Liberation Serif'", letterSpacing: "0.8px", color: "#1a1a1a", lineHeight: "32px",
});

const columns = [
  { left: 36, barLeft: 347, col: 2, low: 1, high: 2, labels: velocityTicks },
  { left: 435, barLeft: 745, col: 3, low: 2, high: 4, labels: densityTicks },
  { left: 833, barLeft: 1144, col: 4, low: 0.25, high: 0.5, labels: radiusTicks },
];
const panels: PanelSpec[] = [
  ...columns.map((c) => ({ ...c, rows: topRows, top: 24, xr: topXRange, yr: topYRange, xt: topXTicks, yt: topYTicks })),
  ...columns.map((c) => ({ ...c, rows: bottomRows, top: 348, xr: bottomXRange, yr: bottomYRange, xt: topXTicks, yt: bottomYTicks })),
];

function Titles({ left, top, kind }: { left: number; top: number; kind: number }) {
  return (
    <div style={titleStyle(left, top)}>
      {kind === 0 && <>input velocity <i>u<sub style={sub}>in</sub></i></>}
      {kind === 1 && <>density <i>{"\u03F1"}</i></>}
      {kind === 2 && <>radius <i>r</i></>}
    </div>
  );
}

export default function App() {
  return (
    <div style={{ position: "absolute", left: 0, top: 0, width: 1195, height: 639, overflow: "hidden", background: "#fff" }}>
      {panels.map((p, i) => (
        <React.Fragment key={i}>
          <Scatter p={p} />
          <ColorBar p={p} />
          <Titles left={p.left} top={p.top - 17} kind={i % 3} />
        </React.Fragment>
      ))}
      <div style={captionStyle(282)}>(a) Latent code size 32</div>
      <div style={captionStyle(605)}>(b) Latent code size 256</div>
    </div>
  );
}
